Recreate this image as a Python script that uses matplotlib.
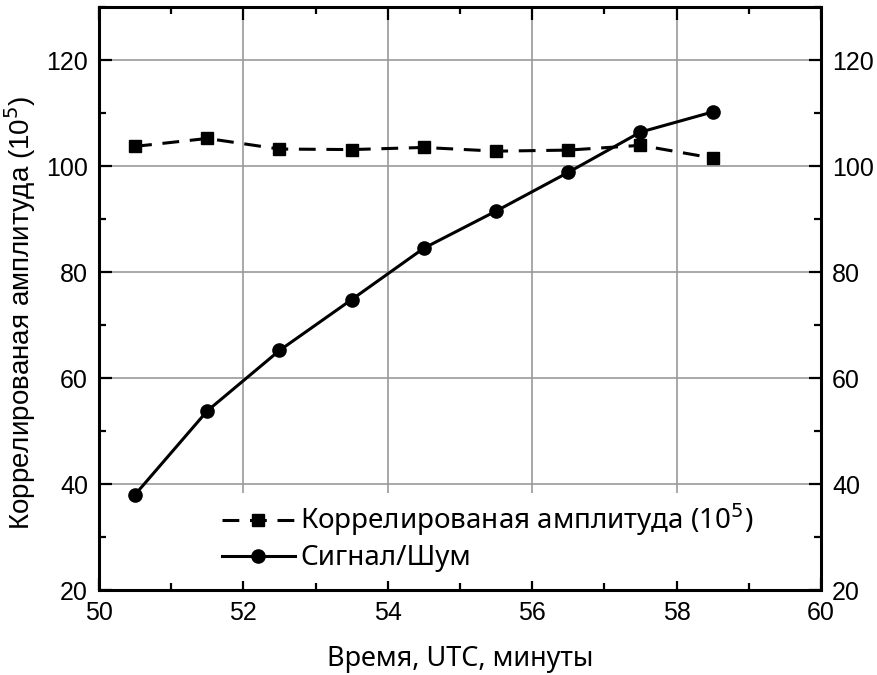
import matplotlib.pyplot as plt
from matplotlib.ticker import MultipleLocator

# Data
time_min = [50.5, 51.5, 52.5, 53.5, 54.5, 55.5, 56.5, 57.5, 58.5]
corr_amp = [103.7, 105.2, 103.2, 103.1, 103.5, 102.8, 103.0, 103.9, 101.5]
snr = [38.0, 53.8, 65.2, 74.8, 84.5, 91.5, 98.8, 106.4, 110.2]

xticks = [50, 52, 54, 56, 58, 60]
yticks = [20, 40, 60, 80, 100, 120]

fig = plt.figure(figsize=(8.78, 6.75), dpi=100)
ax = fig.add_axes([99 / 878, 1 - 590 / 675, 722 / 878, 583 / 675])

ax.plot(time_min, corr_amp, color='black', linestyle=(0, (5.5, 3.5)), linewidth=2.2,
        marker='s', markersize=8.5, label='Коррелированая амплитуда (10$^5$)')
ax.plot(time_min, snr, color='black', linestyle='-', linewidth=2.2,
        marker='o', markersize=9.5, label='Сигнал/Шум')

ax.set_xlim(50, 60)
ax.set_ylim(20, 130)
ax.set_xticks(xticks)
ax.set_yticks(yticks)
ax.xaxis.set_minor_locator(MultipleLocator(1))
ax.yaxis.set_minor_locator(MultipleLocator(10))
ax.grid(True, which='major', color='#999999', linewidth=1.2)
ax.set_axisbelow(True)

ax.tick_params(which='both', direction='in', top=True, right=True, labelright=True,
               width=1.6, labelsize=18)
ax.tick_params(which='major', length=9, pad=8)
ax.tick_params(which='minor', length=5)
for lab in ax.get_xticklabels() + ax.get_yticklabels():
    lab.set_fontfamily('Liberation Sans')
for t in ax.yaxis.get_major_ticks():
    t.label2.set_fontfamily('Liberation Sans')
for sp in ax.spines.values():
    sp.set_linewidth(2.2)

ax.set_xlabel('Время, UTC, минуты', fontfamily='Noto Sans', fontsize=19.5, labelpad=14)
ax.set_ylabel('Коррелированая амплитуда (10$^5$)', fontfamily='Liberation Sans',
              fontsize=20)
ax.yaxis.set_label_coords(-0.084, 0.475)

leg = ax.legend(loc='lower left', bbox_to_anchor=(0.14, -0.008), frameon=True,
                prop={'family': 'Noto Sans', 'size': 20}, handlelength=2.6,
                handletextpad=0.2, borderpad=0.3, labelspacing=0.22)
leg.get_frame().set_edgecolor('none')
leg.get_frame().set_facecolor('white')
leg.get_frame().set_alpha(1)

fig.savefig('out.png', dpi=100)
